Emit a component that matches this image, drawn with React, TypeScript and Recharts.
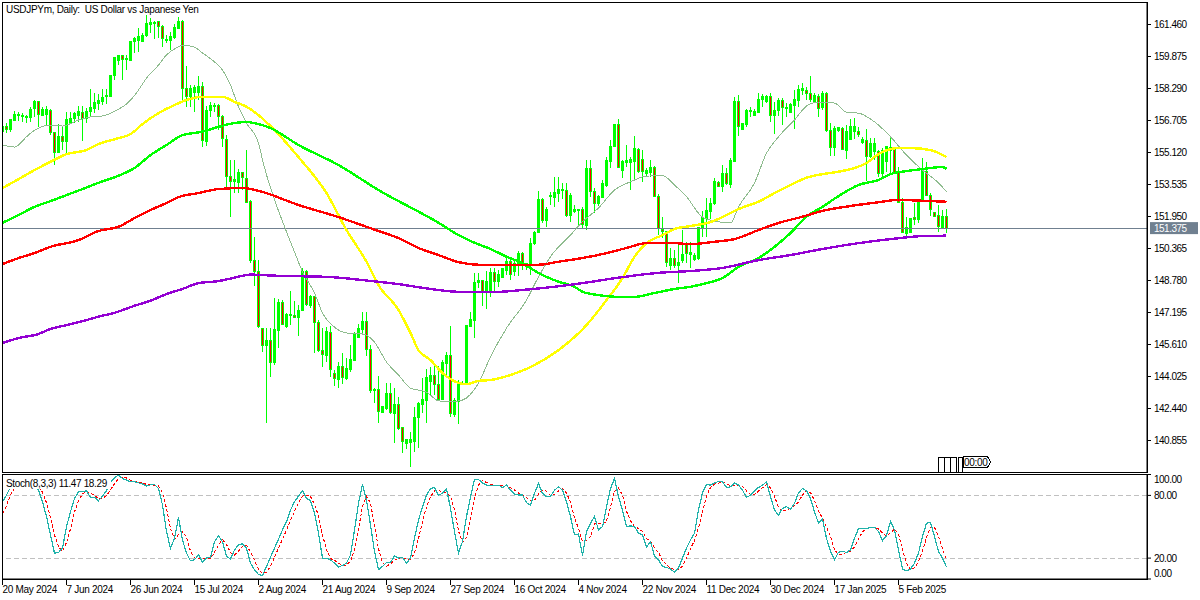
import React from "react"
import { ComposedChart, Bar, Line, XAxis, YAxis, ReferenceLine } from "recharts"

const opens = [
  156.15,156.40,156.26,156.73,156.96,156.97,156.84,156.86,157.29,157.63,
  156.97,156.99,157.19,156.10,155.11,155.93,155.65,156.59,156.79,156.97,
  157.11,156.78,157.14,157.30,157.55,157.63,157.88,157.91,158.91,159.70,
  159.91,159.73,159.70,160.62,160.66,160.62,160.90,161.48,161.51,161.60,
  161.38,160.66,160.66,160.82,161.28,161.60,158.29,157.91,158.11,158.08,
  158.38,155.65,157.19,157.39,157.45,156.92,155.77,153.92,153.66,153.62,
  154.13,153.84,152.67,149.76,149.21,146.42,145.58,145.80,144.70,146.29,
  147.68,146.52,147.03,147.05,146.93,147.31,149.21,147.55,147.97,146.69,
  145.30,145.08,146.19,144.16,143.90,144.51,143.93,144.39,144.84,145.96,
  146.37,146.74,145.37,143.31,143.39,142.23,142.45,143.19,142.20,142.64,
  141.51,140.73,140.78,140.79,141.98,142.66,142.83,143.77,144.06,143.63,
  142.89,144.68,145.05,142.16,142.77,143.67,143.65,146.52,146.82,148.67,
  148.77,148.19,148.22,149.18,148.72,148.94,149.30,149.71,149.23,149.63,
  150.12,149.46,149.50,150.59,151.15,152.81,151.77,152.93,152.90,153.10,
  153.22,153.26,151.99,152.18,152.30,152.30,151.48,154.33,153.18,152.57,
  152.90,153.51,154.66,155.40,156.53,154.25,154.63,154.61,154.66,155.29,
  154.75,154.09,154.12,154.38,152.96,151.33,151.19,149.54,149.88,149.51,
  149.79,150.62,150.09,149.83,149.88,151.36,151.86,152.18,152.57,153.64,
  153.42,154.09,153.54,154.66,157.63,156.27,156.53,157.17,156.97,157.11,
  157.75,157.67,157.88,156.97,157.22,157.68,157.36,157.11,157.47,157.72,
  158.21,158.21,158.05,157.63,157.88,157.36,158.05,156.20,155.36,156.23,
  156.32,155.24,155.77,156.15,156.18,155.60,155.70,154.91,155.16,155.19,
  154.09,154.66,155.37,155.32,154.17,152.63,151.12,151.16,151.91,151.78,
  152.68,154.17,153.01,152.14,152.01,151.39,151.94,
]
const highs = [
  156.43,156.56,156.76,157.19,157.14,157.06,156.97,157.39,157.72,157.67,
  157.39,157.42,157.26,156.15,156.53,156.43,157.14,157.14,157.14,157.42,
  157.42,157.30,158.26,158.05,158.00,158.26,158.25,158.94,159.83,159.95,
  159.95,159.95,160.66,160.82,161.27,161.05,161.93,161.76,161.65,161.65,
  161.43,160.94,161.10,161.48,161.81,161.68,159.40,158.46,158.46,158.91,
  158.63,157.42,157.63,157.55,157.52,156.97,155.98,154.75,154.75,154.28,
  154.17,155.24,152.76,150.93,149.79,146.42,146.42,146.42,147.91,147.86,
  147.81,147.17,148.26,147.78,147.56,149.40,149.30,148.06,148.01,146.82,
  146.42,146.49,146.53,144.34,144.76,145.19,144.94,145.58,146.24,146.62,
  147.22,147.22,145.58,143.45,144.05,142.56,143.72,143.72,143.45,143.02,
  141.54,140.93,141.29,142.51,142.77,143.96,144.39,144.51,144.54,144.54,
  144.84,145.25,146.53,142.96,143.85,143.82,146.57,147.23,149.15,149.15,
  148.80,149.25,149.40,149.40,149.30,149.40,149.96,149.79,149.84,150.26,
  150.21,149.66,150.87,151.25,153.21,152.85,152.43,153.18,153.89,153.89,
  153.59,153.59,153.10,152.52,152.32,152.43,154.75,154.75,153.34,153.01,
  153.76,154.91,155.74,156.53,156.78,154.75,155.49,154.88,155.94,155.36,
  155.24,154.36,154.75,154.45,153.06,151.94,151.23,150.37,150.29,150.70,
  151.28,150.70,150.70,150.14,151.44,152.23,152.85,152.85,153.84,153.71,
  154.50,154.33,154.83,157.85,157.97,156.56,157.26,157.39,157.26,158.08,
  158.01,157.95,158.05,157.63,157.80,157.80,157.57,157.58,158.21,158.46,
  158.54,158.35,158.91,158.05,158.01,158.18,158.13,156.56,156.43,156.39,
  156.37,156.48,156.76,156.81,156.39,155.90,156.27,155.82,155.82,155.24,
  155.32,155.44,155.94,155.40,154.41,152.85,151.91,151.89,152.62,152.68,
  154.83,154.66,153.10,152.18,152.52,152.27,152.30,
]
const lows = [
  155.77,156.10,156.15,156.69,156.69,156.64,156.59,156.64,156.89,156.36,
  156.97,156.48,155.98,154.50,155.08,155.24,155.11,156.53,156.56,156.64,
  155.70,156.56,156.86,157.09,157.22,157.47,157.52,157.88,158.71,159.45,
  158.71,159.20,159.67,160.03,160.11,160.61,160.85,161.02,160.72,160.77,
  160.36,160.56,160.19,160.72,161.27,157.72,157.35,157.39,157.14,157.72,
  155.37,155.44,156.89,157.14,156.23,155.41,153.26,151.94,153.09,153.09,
  153.26,152.60,149.64,148.50,146.42,145.25,141.72,144.01,144.59,145.43,
  146.57,146.42,146.57,146.95,146.03,147.27,147.52,147.43,145.19,145.25,
  144.49,144.75,144.01,143.57,143.45,143.65,143.85,144.26,144.80,145.93,
  146.13,145.04,143.20,142.71,141.74,142.21,142.36,142.16,140.73,141.37,
  140.25,140.43,139.55,140.30,140.48,142.23,141.74,143.11,143.11,142.86,
  142.86,144.10,142.03,142.03,141.67,143.60,143.60,146.49,145.93,148.41,
  147.52,147.37,147.97,148.16,148.47,148.90,149.05,148.80,149.02,149.02,
  149.30,149.30,149.05,150.54,151.12,151.61,151.41,152.52,152.40,152.68,
  152.80,151.94,151.69,152.10,151.53,151.36,151.28,152.93,152.10,152.47,
  152.85,153.42,154.33,155.39,154.33,153.84,154.41,153.26,153.76,154.12,
  153.67,153.95,153.92,152.90,151.03,150.88,149.46,149.30,149.38,148.65,
  149.63,149.64,149.38,149.76,149.79,150.92,150.92,151.81,152.52,153.39,
  153.15,153.51,153.34,154.63,155.95,156.23,156.37,156.89,156.93,157.09,
  157.36,157.58,156.64,156.03,156.93,156.48,156.89,157.06,156.27,157.39,
  157.96,157.72,157.63,157.55,156.89,157.22,156.15,154.94,154.94,156.15,
  155.24,154.78,155.74,155.77,155.90,155.54,153.72,154.83,154.75,153.89,
  153.92,154.17,154.09,154.05,152.60,151.14,150.95,151.11,151.53,151.61,
  152.65,152.99,151.99,151.94,151.19,151.31,151.11,
]
const closes = [
  156.43,156.26,156.76,157.02,157.02,156.89,156.92,157.27,157.65,157.01,
  157.27,157.26,156.10,155.11,155.93,155.67,156.76,156.81,157.06,157.14,
  156.81,157.17,157.37,157.58,157.72,157.85,157.96,158.94,159.81,159.93,
  159.73,159.76,160.62,160.75,160.85,160.94,161.51,161.55,161.58,161.35,
  160.77,160.72,160.89,161.32,161.61,158.29,157.88,158.29,158.34,158.41,
  155.70,157.22,157.45,157.47,156.92,155.79,153.92,153.67,153.80,154.13,
  153.89,152.65,149.79,149.21,146.49,145.58,145.83,144.70,146.33,147.71,
  146.62,147.12,147.10,146.95,147.31,149.21,147.58,147.97,146.69,145.33,
  145.10,146.23,144.39,143.93,144.54,143.96,144.44,144.87,146.16,146.41,
  146.76,145.37,143.32,143.40,142.28,142.53,143.19,142.23,142.66,141.46,
  140.79,140.88,140.88,142.00,142.69,142.90,143.98,144.08,143.63,142.91,
  144.73,145.09,142.20,142.86,143.72,143.70,146.57,146.85,148.69,148.80,
  148.22,148.72,149.18,148.72,149.10,149.35,149.71,149.10,149.63,150.12,
  149.63,149.63,150.62,151.17,152.80,151.77,152.32,153.01,153.15,153.31,
  153.31,151.99,153.01,152.32,152.32,151.53,154.33,153.18,152.60,152.93,
  153.56,154.70,155.44,156.53,154.37,154.66,154.70,154.78,155.32,154.17,
  154.17,154.22,154.38,152.93,151.36,151.19,149.68,149.88,149.51,149.66,
  150.09,150.12,150.15,150.04,151.41,151.89,152.23,152.60,153.67,153.42,
  154.09,153.56,154.70,157.67,156.39,156.56,157.22,157.22,157.14,157.75,
  157.90,157.90,156.97,157.22,157.72,157.36,157.31,157.52,157.75,158.25,
  158.30,158.05,157.75,157.92,157.31,158.05,156.23,155.36,156.32,156.35,
  155.28,156.18,156.43,156.43,156.02,155.77,154.91,155.57,155.57,154.09,
  155.24,155.40,155.24,154.12,152.63,151.16,151.41,151.86,151.81,152.68,
  154.25,153.01,152.30,151.97,151.44,151.94,151.37,
]

// moving averages, read at the bends: [bar, price]
const maThin = [
  [0,155.49],[3,155.39],[4,155.49],[6,155.90],[9,156.33],[12,156.48],[15,156.43],[19,156.73],[22,156.88],[25,156.93],
  [29,157.27],[31,157.52],[34,158.21],[36,158.81],[39,159.45],[41,159.95],[44,160.36],[45,160.44],[48,160.34],[50,160.05],
  [53,159.61],[55,159.20],[57,158.46],[59,157.39],[61,156.58],[64,155.59],[65,154.75],[71,151.19],[73,150.20],[75,149.21],
  [78,148.16],[80,147.17],[83,146.47],[86,146.18],[90,146.13],[93,145.73],[96,144.74],[99,144.10],[102,143.45],[106,143.25],
  [109,142.82],[112,142.77],[115,142.86],[119,143.70],[122,145.00],[126,146.42],[131,147.81],[134,148.96],[137,149.96],[142,151.03],
  [145,151.69],[149,152.37],[153,153.26],[157,153.67],[161,153.95],[165,153.97],[168,153.51],[171,152.93],[175,151.92],[179,151.69],
  [182,151.63],[184,152.43],[188,153.61],[191,155.09],[194,155.90],[198,156.73],[201,157.42],[204,157.62],[208,157.57],[211,157.12],
  [214,157.07],[218,156.64],[222,155.90],[226,154.99],[230,154.25],[234,153.61],[236,153.18],
]
const maYellow = [
  [0,153.36],[4,153.80],[8,154.25],[12,154.66],[16,155.04],[21,155.24],[24,155.54],[29,155.83],[32,156.03],[35,156.53],
  [39,157.07],[43,157.47],[46,157.72],[50,157.88],[55,157.88],[58,157.63],[61,157.39],[64,156.97],[68,156.23],[74,154.89],
  [81,153.11],[86,151.28],[91,149.71],[94,148.55],[99,147.32],[102,146.18],[104,145.33],[107,144.84],[110,144.20],[114,143.71],
  [116,143.65],[119,143.81],[122,143.85],[127,144.10],[132,144.49],[139,145.33],[146,146.57],[151,147.81],[155,148.90],[158,149.96],
  [161,150.63],[165,151.03],[168,151.33],[172,151.48],[177,151.67],[181,152.02],[184,152.32],[189,152.68],[193,153.11],[197,153.51],
  [201,153.87],[205,154.05],[209,154.17],[213,154.35],[216,154.60],[219,155.04],[224,155.34],[227,155.34],[232,155.24],[236,154.89],
]
const maGreen = [
  [0,151.64],[4,152.02],[8,152.43],[12,152.71],[16,153.01],[20,153.31],[24,153.62],[29,153.97],[33,154.35],[37,154.99],
  [41,155.49],[45,155.98],[50,156.15],[54,156.39],[58,156.58],[61,156.63],[64,156.53],[67,156.33],[74,155.49],[84,154.50],
  [94,153.26],[109,151.64],[114,151.03],[118,150.65],[122,150.34],[126,149.96],[130,149.64],[134,149.15],[139,148.72],[143,148.47],
  [145,148.22],[149,148.06],[154,147.97],[158,147.97],[163,148.16],[168,148.36],[172,148.47],[176,148.65],[180,148.90],[184,149.46],
  [189,149.89],[193,150.45],[197,151.13],[201,151.94],[205,152.43],[209,152.96],[214,153.51],[219,153.76],[222,154.05],[226,154.20],
  [230,154.30],[235,154.40],[236,154.31],
]
const maRed = [
  [0,149.59],[4,149.89],[8,150.14],[12,150.45],[19,150.78],[24,151.23],[29,151.44],[33,151.87],[37,152.27],[41,152.62],
  [44,152.91],[49,153.11],[54,153.31],[60,153.36],[64,153.22],[74,152.52],[84,151.92],[94,151.23],[99,150.88],[104,150.39],
  [109,150.04],[114,149.69],[119,149.56],[134,149.56],[139,149.71],[144,149.86],[150,150.09],[156,150.39],[161,150.63],[168,150.63],
  [172,150.58],[178,150.70],[183,150.83],[189,151.28],[194,151.63],[200,151.94],[205,152.23],[212,152.47],[218,152.63],[224,152.77],
  [230,152.73],[236,152.68],
]
const maPurple = [
  [0,145.68],[4,145.93],[9,146.13],[12,146.38],[16,146.57],[21,146.82],[24,146.99],[28,147.18],[33,147.53],[37,147.78],
  [41,148.11],[45,148.36],[49,148.65],[54,148.75],[58,148.92],[62,149.07],[68,149.02],[82,148.95],[90,148.80],[99,148.60],
  [107,148.36],[114,148.22],[123,148.21],[130,148.31],[138,148.47],[145,148.65],[154,148.92],[164,149.16],[172,149.25],[180,149.40],
  [189,149.79],[197,150.04],[205,150.34],[214,150.63],[222,150.83],[230,150.98],[236,151.00],
]

const stochMain = [
  73.9,80.3,88.2,91.4,92.0,91.4,91.4,90.8,89.8,85.0,73.9,59.7,42.2,24.7,25.4,29.5,50.1,64.4,77.1,83.5,
  83.5,84.4,78.1,78.1,74.9,79.3,84.4,92.0,97.1,99.3,96.2,94.6,93.0,93.0,92.0,90.8,88.9,90.1,90.4,86.6,
  70.8,45.4,29.5,39.0,59.0,37.4,24.7,17.4,18.4,23.1,16.2,20.0,20.9,35.8,41.2,35.8,21.6,19.3,27.9,32.7,
  33.6,29.5,15.2,8.9,4.1,3.5,12.0,20.9,29.5,38.1,47.0,54.9,66.0,73.9,79.3,84.4,77.1,74.9,62.8,43.8,
  20.0,20.0,18.4,15.2,11.4,13.0,15.2,23.1,47.0,72.4,90.4,75.5,51.7,26.3,8.9,12.0,15.8,15.8,22.2,20.0,
  20.9,15.2,20.0,39.0,56.5,69.2,80.3,86.6,87.6,80.3,81.9,86.6,67.6,45.4,24.7,35.8,59.7,78.7,95.2,95.2,
  92.0,89.8,89.8,89.8,89.8,87.6,89.8,85.0,81.2,80.3,80.3,73.0,70.8,81.9,91.4,81.9,78.7,79.3,85.0,88.2,
  85.0,73.9,59.7,42.2,43.1,22.5,45.4,53.3,59.7,47.0,50.1,69.2,86.6,96.2,78.7,66.0,50.1,50.8,50.1,43.8,
  42.2,30.4,35.8,22.2,18.4,12.0,11.1,9.5,6.6,10.4,20.0,29.5,37.4,43.8,66.0,82.5,90.4,89.8,92.0,93.3,
  93.0,87.6,88.2,92.0,89.8,85.0,78.1,80.3,84.4,87.6,89.8,93.0,78.7,66.0,61.2,67.6,69.2,66.6,72.4,82.5,
  86.6,84.4,77.1,64.4,53.3,57.1,39.0,26.3,18.4,25.7,26.6,25.4,27.9,39.0,48.2,48.5,48.5,49.2,49.5,45.4,
  36.5,41.6,54.9,47.0,27.9,9.5,7.9,9.5,15.2,24.7,40.6,53.3,54.3,40.6,26.3,20.0,11.47,
]
const stochSignal = [
  62.8,70.0,80.8,86.6,90.5,91.6,91.6,91.2,90.7,88.5,82.9,72.9,58.6,42.2,30.8,26.5,35.0,48.0,64.1,75.0,
  81.4,83.8,82.0,80.2,77.0,77.4,79.6,85.2,91.2,96.1,97.6,96.7,94.6,93.5,92.7,91.9,90.6,90.0,89.5,89.0,
  82.6,67.6,48.6,38.0,42.5,45.1,40.4,26.5,20.2,19.6,19.2,19.8,19.4,25.6,32.6,37.6,33.0,25.4,22.9,26.6,
  31.4,32.0,26.1,17.9,9.4,5.5,6.5,12.1,20.8,29.5,38.2,46.7,56.0,64.9,73.1,79.2,80.3,78.8,71.6,60.5,
  42.2,28.0,19.5,17.9,15.0,13.2,13.2,17.1,28.5,47.5,70.0,79.1,72.6,51.2,29.0,15.7,12.3,14.6,17.9,19.3,
  21.1,18.7,18.7,24.7,38.5,55.0,69.0,78.7,84.5,84.8,83.2,82.9,78.7,66.6,45.9,35.3,40.1,58.1,77.9,89.7,
  94.1,92.4,90.5,89.8,89.8,89.1,89.1,87.5,85.3,82.2,80.7,77.9,74.7,75.2,81.4,85.0,84.0,80.0,81.0,84.2,
  86.1,82.4,73.2,58.6,48.3,36.0,37.0,40.4,52.8,53.3,52.3,55.4,68.6,84.0,87.2,80.3,64.9,55.6,50.4,48.2,
  45.4,38.8,36.0,29.5,25.5,17.5,13.8,10.5,9.1,8.8,12.3,20.0,29.0,36.9,49.0,64.1,79.6,87.6,90.7,91.7,
  92.8,91.3,89.3,89.3,90.0,88.9,84.3,81.1,80.9,84.1,87.3,90.5,87.2,79.2,68.6,65.0,66.1,67.8,70.1,73.8,
  80.5,84.5,82.7,75.3,64.9,58.3,49.8,40.8,27.9,23.5,23.6,25.9,26.6,30.8,38.4,45.2,48.4,48.7,49.1,48.0,
  43.9,41.2,44.3,47.8,43.3,28.1,15.1,9.0,10.9,16.5,26.8,39.5,49.4,49.4,40.4,28.9,18.29,
]

const priceTicks = [161.46,159.875,158.29,156.705,155.12,153.535,151.95,150.365,148.78,147.195,145.61,144.025,142.44,140.855]
const stochTicks = [100,80,20,0]
const dateLabels = [
  "20 May 2024","7 Jun 2024","26 Jun 2024","15 Jul 2024","2 Aug 2024","21 Aug 2024","9 Sep 2024","27 Sep 2024",
  "16 Oct 2024","4 Nov 2024","22 Nov 2024","11 Dec 2024","30 Dec 2024","17 Jan 2025","5 Feb 2025",
]
const LAST_PRICE = 151.375

const FONT = "Liberation Sans"
const BARS_PER_LABEL = 16
const dateTicks = dateLabels.map((_, i) => i * BARS_PER_LABEL)
const xDomain = [-0.125, 286.125]

const lookup = (pairs: number[][]) => new Map(pairs.map(([k, v]) => [k, v]))
const thin = lookup(maThin)
const yellow = lookup(maYellow)
const green = lookup(maGreen)
const red = lookup(maRed)
const purple = lookup(maPurple)

const rows = opens.map((open, i) => ({
  i,
  open,
  high: highs[i],
  low: lows[i],
  close: closes[i],
  range: [lows[i], highs[i]],
  thin: thin.get(i) ?? null,
  yellow: yellow.get(i) ?? null,
  green: green.get(i) ?? null,
  red: red.get(i) ?? null,
  purple: purple.get(i) ?? null,
  main: stochMain[i],
  signal: stochSignal[i],
}))

function Candle(props: any) {
  const { x, y, width, height, payload } = props
  const { open, close, high, low } = payload
  const cx = Math.floor(x + width / 2) + 0.5
  const perUnit = height / (high - low || 1)
  const top = y + (high - Math.max(open, close)) * perUnit
  const bottom = y + (high - Math.min(open, close)) * perUnit
  const up = close >= open
  return (
    <g shapeRendering="crispEdges">
      <line x1={cx} x2={cx} y1={y} y2={y + height} stroke="#00ff00" />
      <rect
        x={cx - 1}
        y={top}
        width={2}
        height={Math.max(bottom - top, 1)}
        fill={up ? "#00ff00" : "#ff0000"}
        stroke="#00ff00"
      />
    </g>
  )
}

function PriceTag(props: any) {
  const y = props.viewBox.y
  return (
    <g>
      <rect x={1150} y={y - 6} width={48} height={12} fill="#708090" />
      <text x={1154} y={y + 3.5} fill="#fff" fontSize={10} letterSpacing={-0.5} fontFamily={FONT}>
        {LAST_PRICE.toFixed(3)}
      </text>
    </g>
  )
}

function StochTick(props: any) {
  const { x, y, payload } = props
  const shift = payload.value === 100 ? 5 : payload.value === 0 ? -6 : 0
  return (
    <text x={x + 1} y={y + shift + 3.5} fontSize={10} letterSpacing={-0.5} fontFamily={FONT} fill="#000">
      {payload.value.toFixed(2)}
    </text>
  )
}

function DateTick(props: any) {
  const { x, y, payload } = props
  return (
    <text x={x} y={y + 6} fontSize={10} letterSpacing={-0.3} fontFamily={FONT} fill="#000">
      {dateLabels[payload.value / BARS_PER_LABEL]}
    </text>
  )
}

export default function App() {
  return (
    <div style={{ position: "absolute", left: 0, top: 0, width: 1200, height: 600, background: "#fff", overflow: "hidden" }}>
      <div style={{ position: "absolute", left: 0, top: 0 }}>
        <ComposedChart width={1200} height={473} data={rows} margin={{ top: 2.5, right: 0, bottom: 0.5, left: 2 }}>
          <XAxis dataKey="i" type="number" domain={xDomain} hide allowDataOverflow />
          <YAxis
            orientation="right"
            width={53}
            domain={[139.27, 162.55]}
            allowDataOverflow
            ticks={priceTicks}
            interval={0}
            tickFormatter={(v: number) => v.toFixed(3)}
            tick={{ fontSize: 10, fontFamily: FONT, fill: "#000", letterSpacing: -0.5 }}
            tickSize={4}
            tickMargin={3}
            stroke="#000"
          />
          <ReferenceLine y={LAST_PRICE} stroke="#708090" shapeRendering="crispEdges" label={<PriceTag />} />
          <Bar dataKey="range" barSize={3} shape={<Candle />} isAnimationActive={false} />
          <Line type="monotone" dataKey="thin" stroke="#8fbc8f" strokeWidth={1} dot={false} connectNulls isAnimationActive={false} shapeRendering="crispEdges" />
          <Line type="monotone" dataKey="yellow" stroke="#ffff00" strokeWidth={2.4} dot={false} connectNulls isAnimationActive={false} shapeRendering="crispEdges" />
          <Line type="monotone" dataKey="green" stroke="#00ff00" strokeWidth={2.4} dot={false} connectNulls isAnimationActive={false} shapeRendering="crispEdges" />
          <Line type="monotone" dataKey="red" stroke="#ff0000" strokeWidth={2.4} dot={false} connectNulls isAnimationActive={false} shapeRendering="crispEdges" />
          <Line type="monotone" dataKey="purple" stroke="#9400d3" strokeWidth={2.4} dot={false} connectNulls isAnimationActive={false} shapeRendering="crispEdges" />
        </ComposedChart>
      </div>
      <div style={{ position: "absolute", left: 0, top: 470 }}>
        <ComposedChart width={1200} height={130} data={rows} margin={{ top: 4.5, right: 0, bottom: 0, left: 2 }}>
          <XAxis
            dataKey="i"
            type="number"
            domain={xDomain}
            allowDataOverflow
            ticks={dateTicks}
            interval={0}
            height={21}
            tick={<DateTick />}
            tickSize={6}
            stroke="#000"
          />
          <YAxis
            orientation="right"
            width={53}
            domain={[0, 100]}
            ticks={stochTicks}
            interval={0}
            tick={<StochTick />}
            tickSize={4}
            tickMargin={2}
            stroke="#000"
          />
          <ReferenceLine y={80} stroke="#c0c0c0" strokeDasharray="5 3" shapeRendering="crispEdges" />
          <ReferenceLine y={20} stroke="#c0c0c0" strokeDasharray="5 3" shapeRendering="crispEdges" />
          <Line dataKey="signal" stroke="#ff0000" strokeWidth={1} strokeDasharray="3 2" dot={false} isAnimationActive={false} shapeRendering="crispEdges" />
          <Line dataKey="main" stroke="#20b2aa" strokeWidth={1.2} dot={false} isAnimationActive={false} shapeRendering="crispEdges" />
        </ComposedChart>
      </div>

      <div style={{ position: "absolute", left: 2, top: 2, width: 1146, height: 471, boxSizing: "border-box", border: "1px solid #000", pointerEvents: "none" }} />
      <div style={{ position: "absolute", left: 2, top: 474, width: 1146, height: 106, boxSizing: "border-box", border: "1px solid #000", pointerEvents: "none" }} />

      <div style={{ position: "absolute", left: 6, top: 4, font: `10px '${FONT}'`, letterSpacing: -0.3, lineHeight: "12px", whiteSpace: "pre", color: "#000" }}>
        {"USDJPYm, Daily:  US Dollar vs Japanese Yen"}
      </div>
      <div style={{ position: "absolute", left: 6, top: 478, paddingRight: 4, font: `10px '${FONT}'`, letterSpacing: -0.35, lineHeight: "11px", whiteSpace: "pre", color: "#000", background: "#fff" }}>
        {"Stoch(8,3,3) 11.47 18.29"}
      </div>

      <svg width={70} height={24} style={{ position: "absolute", left: 930, top: 452 }} shapeRendering="crispEdges">
        <g fill="#fff" stroke="#000">
          <rect x={8.5} y={5.5} width={6} height={15} />
          <rect x={14.5} y={5.5} width={6} height={15} />
          <rect x={20.5} y={5.5} width={6} height={15} />
          <rect x={28.5} y={5.5} width={4} height={15} />
          <path d="M33.5 4.5 H57.5 L60.5 10 L57.5 15.5 H33.5 Z" />
        </g>
        <text x={34} y={13.5} fontSize={10} letterSpacing={-0.3} fontFamily={FONT} fill="#000">00:00</text>
      </svg>
    </div>
  )
}
